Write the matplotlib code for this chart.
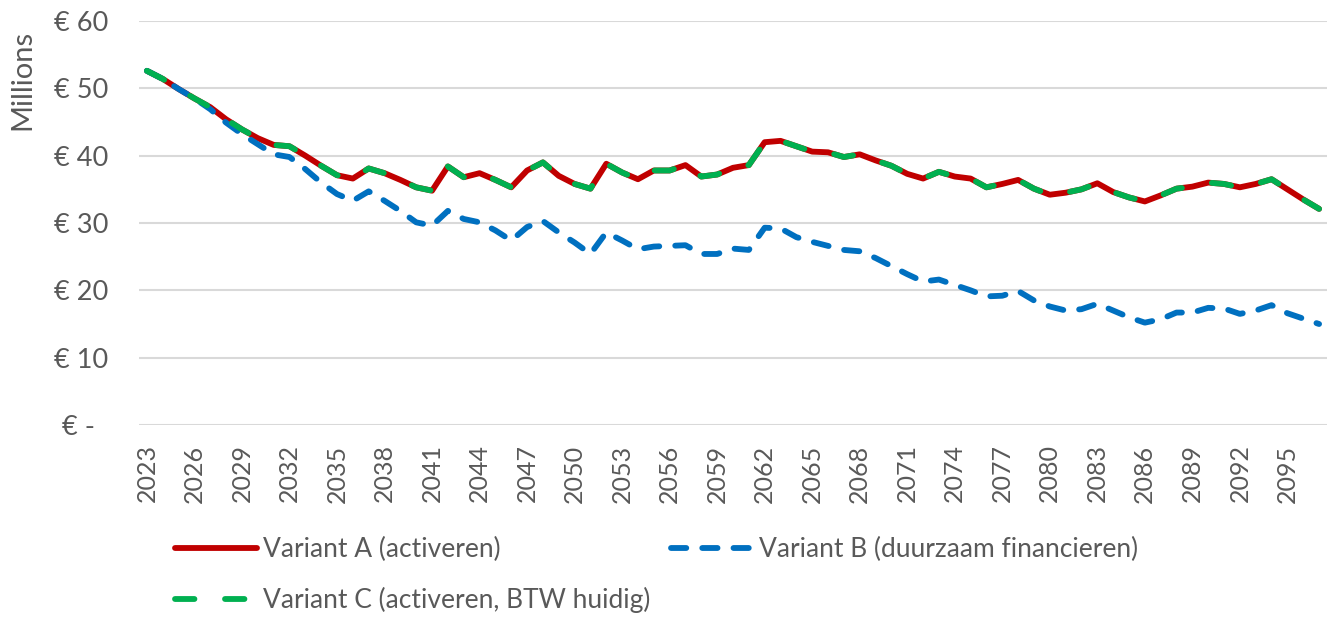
import matplotlib.pyplot as plt
import numpy as np

plt.rcParams['font.family'] = ['Lato', 'DejaVu Sans']
plt.rcParams['lines.scale_dashes'] = False

years = list(range(2023, 2098))

variant_a = [52.6, 51.4, 49.9, 48.5, 47.2, 45.4, 43.9, 42.6, 41.6, 41.4,
             40.0, 38.5, 37.1, 36.6, 38.1, 37.4, 36.4, 35.3, 34.8, 38.4,
             36.8, 37.4, 36.4, 35.3, 37.8, 39.0, 37.0, 35.8, 35.1, 38.8,
             37.5, 36.5, 37.8, 37.8, 38.6, 36.9, 37.2, 38.2, 38.6, 42.0,
             42.2, 41.4, 40.6, 40.5, 39.8, 40.2, 39.3, 38.5, 37.3, 36.6,
             37.6, 36.9, 36.6, 35.3, 35.8, 36.4, 35.1, 34.2, 34.5, 35.0,
             35.9, 34.6, 33.8, 33.2, 34.1, 35.1, 35.4, 36.0, 35.8, 35.3,
             35.8, 36.5, 35.0, 33.5, 32.1]

variant_b = [52.6, 51.4, 49.9, 48.5, 46.9, 44.9, 43.2, 41.7, 40.2, 39.8,
             38.0, 36.0, 34.3, 33.3, 34.7, 33.3, 31.8, 30.1, 29.6, 31.8,
             30.6, 30.1, 28.9, 27.4, 29.4, 30.3, 28.6, 27.1, 25.4, 28.6,
             27.4, 26.1, 26.5, 26.6, 26.7, 25.4, 25.4, 26.2, 26.0, 29.3,
             29.2, 27.9, 27.2, 26.6, 26.0, 25.8, 24.8, 23.6, 22.4, 21.3,
             21.6, 20.8, 20.0, 19.1, 19.2, 19.9, 18.5, 17.6, 17.0, 17.2,
             18.0, 17.0, 16.0, 15.2, 15.7, 16.7, 16.7, 17.4, 17.3, 16.5,
             17.0, 17.8, 16.6, 15.8, 15.0]

# variant C follows variant A
variant_c = list(variant_a)

labels = ['Variant A (activeren)', 'Variant B (duurzaam financieren)',
          'Variant C (activeren, BTW huidig)']

yticks = [0, 10, 20, 30, 40, 50, 60]
ytick_labels = ['€ -  ', '€ 10', '€ 20', '€ 30', '€ 40', '€ 50', '€ 60']

grey = '#595959'

fig = plt.figure(figsize=(13.31, 6.19), dpi=100)
ax = fig.add_axes([139/1331, 1 - 425/619, (1327-139)/1331, (425-21)/619])

lw = 4.2
la, = ax.plot(years, variant_a, color='#C00000', lw=lw, solid_capstyle='round',
              solid_joinstyle='round')
lb, = ax.plot(years, variant_b, color='#0070C0', lw=lw, dash_capstyle='round',
              dash_joinstyle='round')
lb.set_dashes((11, 11.5))
lc, = ax.plot(years, variant_c, color='#00B050', lw=lw, dash_capstyle='round',
              dash_joinstyle='round')
lc.set_dashes((14, 22))

ax.set_xlim(2022.5, 2097.5)
ax.set_ylim(0, 60)
ax.set_yticks(yticks)
ax.set_yticklabels(ytick_labels)
ax.set_xticks(years[::3])
ax.set_xticklabels([str(y) for y in years[::3]], rotation=90)
ax.tick_params(axis='y', length=0, colors=grey, labelsize=19.5, pad=22)
ax.tick_params(axis='x', length=0, colors=grey, labelsize=18, pad=14)
ax.yaxis.grid(True, color='#d9d9d9', lw=1.5)
ax.set_axisbelow(True)
for s in ax.spines.values():
    s.set_visible(False)

fig.text(22/1331, 1 - 80/619, 'Millions', rotation=90, ha='center', va='center',
         fontsize=21, color=grey)

leg = fig.legend([la, lc, lb], [labels[0], labels[2], labels[1]], ncol=2,
                 loc='upper left', bbox_to_anchor=(175/1331, 1 - 537/619),
                 frameon=False, fontsize=19, handlelength=3.1, handletextpad=0.25,
                 columnspacing=0.75, labelspacing=0.95, borderpad=0,
                 borderaxespad=0)
for t in leg.get_texts():
    t.set_color(grey)

fig.savefig('out.png', dpi=100)
